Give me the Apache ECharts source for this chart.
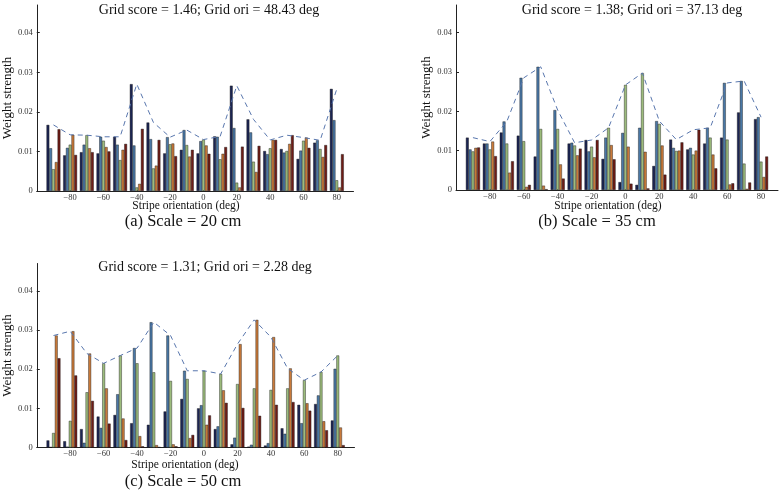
<!DOCTYPE html>
<html><head><meta charset="utf-8">
<script src="https://cdn.jsdelivr.net/npm/echarts@6/dist/echarts.min.js"></script>
<style>html,body{margin:0;padding:0;background:#fff}#c{width:781px;height:494px}</style>
</head><body><div id="c"></div>
<script>
// Stripe orientations (deg)
const orientations = [-90,-80,-70,-60,-50,-40,-30,-20,-10,0,10,20,30,40,50,60,70,80];
const xTickLabels = [-80,-60,-40,-20,0,20,40,60,80];
const yTickLabels = [0,0.01,0.02,0.03,0.04];

// Panel (a) Scale = 20 cm
const a_s1 = [0.0167,0.0090,0.0098,0.0095,0.0137,0.0270,0.0173,0.0095,0.0104,0.0095,0.0138,0.0266,0.0181,0.0101,0.0106,0.0081,0.0122,0.0258];
const a_s2 = [0.0108,0.0109,0.0117,0.0137,0.0117,0.0115,0.0131,0.0136,0.0154,0.0126,0.0137,0.0159,0.0148,0.0093,0.0097,0.0102,0.0128,0.0179];
const a_s3 = [0.0055,0.0117,0.0141,0.0127,0.0078,0.0009,0.0057,0.0118,0.0116,0.0130,0.0080,0.0021,0.0074,0.0108,0.0101,0.0127,0.0106,0.0027];
const a_s4 = [0.0073,0.0142,0.0108,0.0111,0.0104,0.0018,0.0064,0.0120,0.0087,0.0115,0.0094,0.0009,0.0048,0.0129,0.0119,0.0135,0.0086,0.0009];
const a_s5 = [0.0156,0.0091,0.0098,0.0100,0.0119,0.0157,0.0129,0.0088,0.0104,0.0094,0.0111,0.0112,0.0114,0.0129,0.0141,0.0109,0.0116,0.0093];

// Panel (b) Scale = 35 cm
const b_s1 = [0.0133,0.0118,0.0146,0.0138,0.0085,0.0103,0.0118,0.0127,0.0079,0.0020,0.0013,0.0061,0.0128,0.0103,0.0118,0.0133,0.0197,0.0180];
const b_s2 = [0.0103,0.0118,0.0174,0.0285,0.0313,0.0203,0.0120,0.0098,0.0133,0.0145,0.0158,0.0175,0.0107,0.0107,0.0158,0.0272,0.0277,0.0185];
const b_s3 = [0.0098,0.0103,0.0118,0.0124,0.0155,0.0155,0.0113,0.0110,0.0158,0.0267,0.0297,0.0168,0.0099,0.0090,0.0133,0.0128,0.0067,0.0072];
const b_s4 = [0.0107,0.0123,0.0044,0.0008,0.0011,0.0065,0.0088,0.0083,0.0114,0.0110,0.0097,0.0113,0.0100,0.0100,0.0090,0.0014,0.0003,0.0033];
const b_s5 = [0.0108,0.0086,0.0073,0.0013,0.0002,0.0029,0.0105,0.0127,0.0078,0.0016,0.0004,0.0039,0.0121,0.0153,0.0055,0.0017,0.0019,0.0085];

// Panel (c) Scale = 50 cm
const c_s1 = [0.0018,0.0016,0.0047,0.0079,0.0083,0.0062,0.0058,0.0092,0.0124,0.0100,0.0047,0.0008,0.0002,0.0005,0.0049,0.0109,0.0111,0.0069];
const c_s2 = [0.0001,0.0002,0.0012,0.0050,0.0136,0.0254,0.0320,0.0286,0.0196,0.0108,0.0054,0.0025,0.0007,0.0011,0.0035,0.0062,0.0133,0.0201];
const c_s3 = [0.0037,0.0068,0.0141,0.0215,0.0235,0.0215,0.0192,0.0170,0.0175,0.0196,0.0188,0.0162,0.0151,0.0147,0.0151,0.0172,0.0193,0.0235];
const c_s4 = [0.0286,0.0297,0.0240,0.0151,0.0074,0.0029,0.0006,0.0008,0.0024,0.0058,0.0146,0.0264,0.0326,0.0282,0.0202,0.0113,0.0067,0.0051];
const c_s5 = [0.0228,0.0184,0.0119,0.0061,0.0019,0.0003,0.0001,0.0003,0.0032,0.0082,0.0114,0.0101,0.0081,0.0109,0.0116,0.0094,0.0044,0.0006];

const panels = [
  {title:'Grid score = 1.46; Grid ori = 48.43 deg', caption:'(a) Scale = 20 cm', series:[a_s1,a_s2,a_s3,a_s4,a_s5]},
  {title:'Grid score = 1.38; Grid ori = 37.13 deg', caption:'(b) Scale = 35 cm', series:[b_s1,b_s2,b_s3,b_s4,b_s5]},
  {title:'Grid score = 1.31; Grid ori = 2.28 deg', caption:'(c) Scale = 50 cm', series:[c_s1,c_s2,c_s3,c_s4,c_s5]}
];

const colors = ['#1c2553','#4a78a6','#9cbc7c','#c97a3a','#6e1c16'];
const serif = '"Liberation Serif", "DejaVu Serif", serif';

const grids = [
  {left:32.5, top:5, width:321, height:186},
  {left:456, top:5, width:322, height:185},
  {left:32.5, top:263.5, width:322, height:184}
];
const titlePos = [[209,10],[632,10],[205,267]];
const xNamePos = [[186,206],[608,206],[185,465]];
const capPos = [[183,222],[597,222],[183,482]];

const minus = v => String(v).replace('-', '\u2212');

const option = {
  animation:false,
  grid: grids.map(g => Object.assign({containLabel:false}, g)),
  xAxis: grids.map((g,i) => ({
    type:'value', gridIndex:i, min:-100, max:90, interval:10,
    axisLine:{show:true, onZero:false, lineStyle:{color:'#222', width:1}},
    axisTick:{show:true, inside:true, length:2, customValues:xTickLabels, lineStyle:{color:'#222'}},
    axisLabel:{customValues:xTickLabels, formatter:v=>minus(v), fontFamily:serif, fontSize:8.5, color:'#333', margin:2},
    splitLine:{show:false}
  })),
  yAxis: grids.map((g,i) => ({
    type:'value', gridIndex:i, min:0, max:0.047,
    name:'Weight strength', nameLocation:'middle', nameGap:15,
    nameTextStyle:{fontFamily:serif, fontSize:13, color:'#111'},
    axisLine:{show:true, onZero:false, lineStyle:{color:'#222', width:1}},
    axisTick:{show:true, inside:true, length:3, customValues:yTickLabels, lineStyle:{color:'#222'}},
    axisLabel:{customValues:yTickLabels, formatter:v=>String(+v.toFixed(2)), fontFamily:serif, fontSize:8.5, color:'#333', margin:4},
    splitLine:{show:false}
  })),
  series: [],
  graphic: []
};

panels.forEach((p,i) => {
  p.series.forEach((vals,k) => {
    option.series.push({
      type:'bar', xAxisIndex:i, yAxisIndex:i,
      data: orientations.map((o,j)=>[o, vals[j]]),
      barGap:'0%', barCategoryGap:'17%',
      itemStyle:{color:colors[k], borderColor:'#111', borderWidth:0.4},
      silent:true
    });
  });
  const env = orientations.map((o,j)=>[o, Math.max(...p.series.map(s=>s[j]))]);
  option.series.push({
    type:'line', xAxisIndex:i, yAxisIndex:i, data:env, symbol:'none', z:5,
    lineStyle:{color:'#5876ad', width:1, type:[5,4]}
  });
  option.graphic.push(
    {type:'text', x:titlePos[i][0], y:titlePos[i][1], style:{text:p.title, font:'14px '+serif, fill:'#111', textAlign:'center', textVerticalAlign:'middle'}},
    {type:'text', x:xNamePos[i][0], y:xNamePos[i][1], style:{text:'Stripe orientation (deg)', font:'11.5px '+serif, fill:'#111', textAlign:'center', textVerticalAlign:'middle'}},
    {type:'text', x:capPos[i][0], y:capPos[i][1], style:{text:p.caption, font:'16.5px '+serif, fill:'#111', textAlign:'center', textVerticalAlign:'middle'}}
  );
});

const chart = echarts.init(document.getElementById('c'), null, {renderer:'canvas'});
chart.setOption(option);
</script>
</body></html>
